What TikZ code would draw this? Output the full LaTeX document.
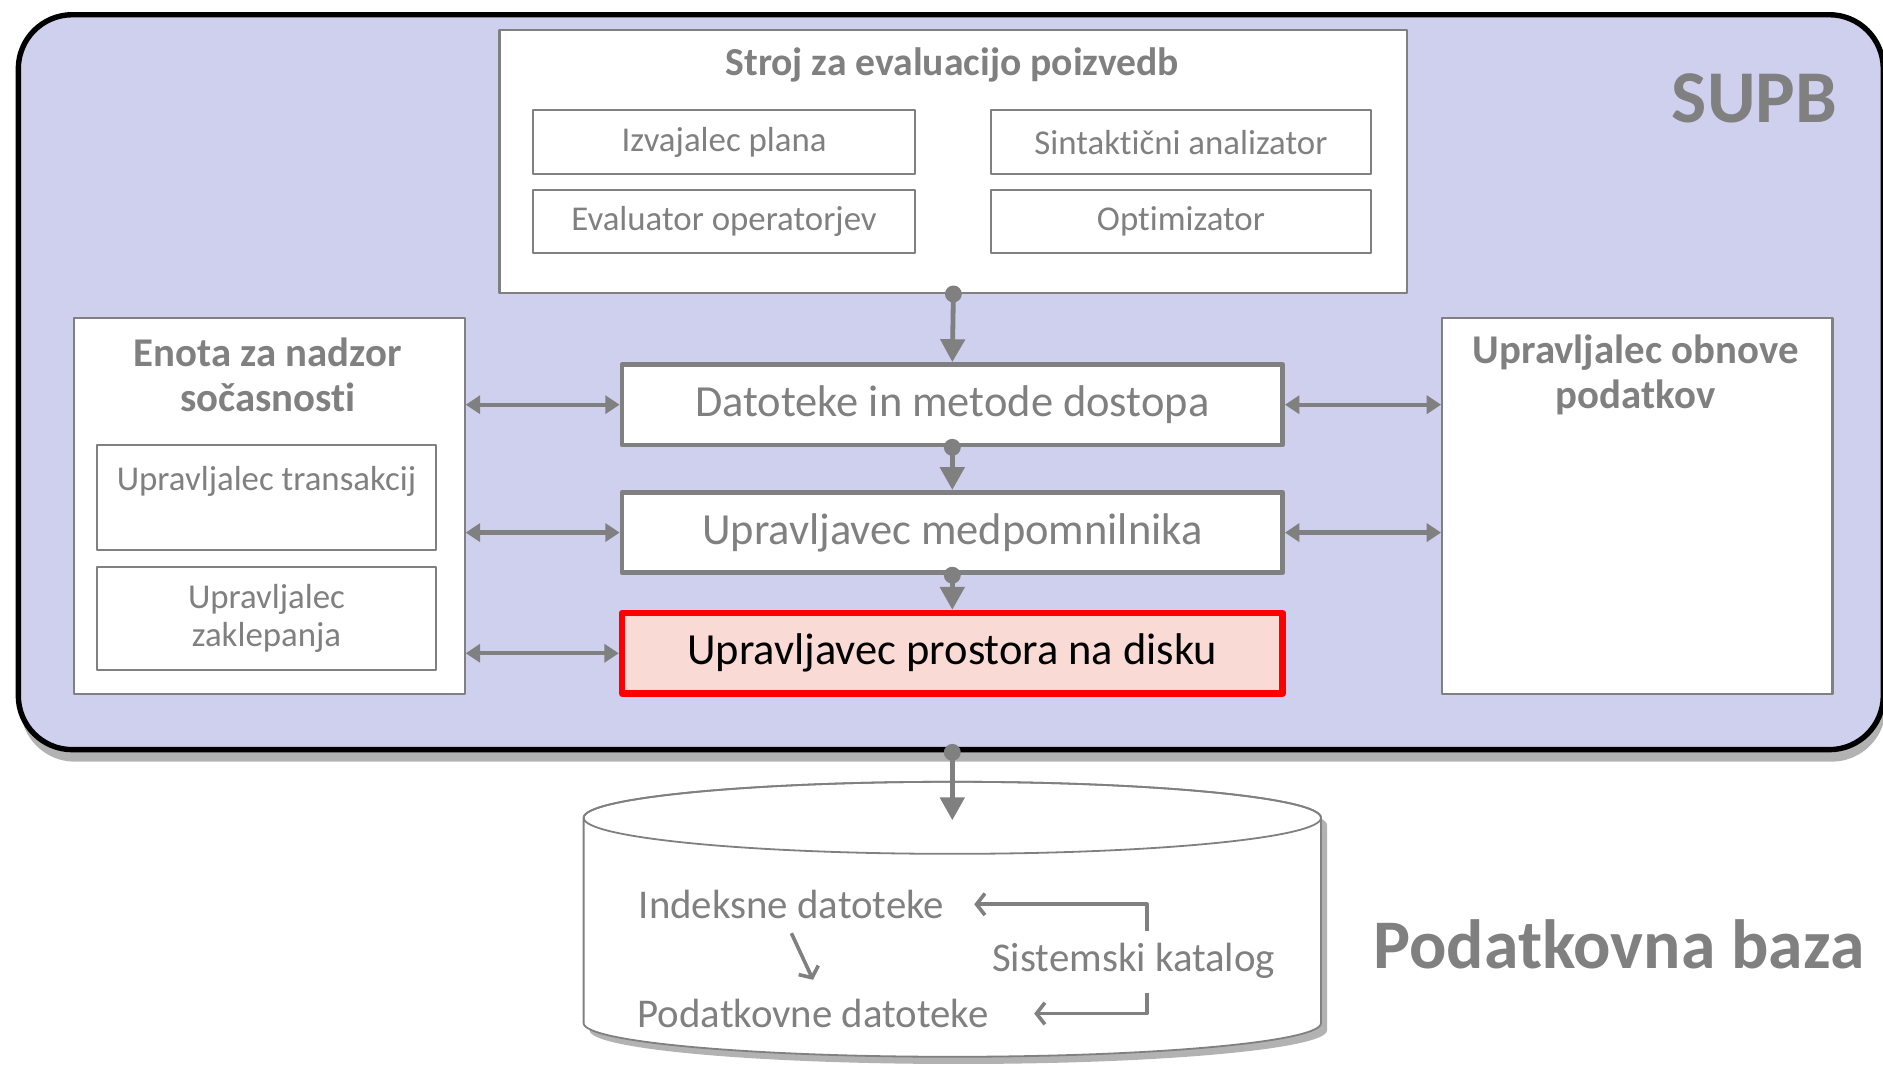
\documentclass[tikz,border=0pt]{standalone}
\usepackage{fontspec}
\setmainfont{Carlito}[Ligatures=NoCommon]
\usetikzlibrary{arrows.meta,positioning,shadows}
\definecolor{supbfill}{RGB}{207,208,238}
\definecolor{diskfill}{RGB}{250,218,212}
\definecolor{txtgray}{RGB}{128,128,128}
\newcommand{\fsz}[2]{\fontsize{#1}{#2}\selectfont}
\begin{document}
\begin{tikzpicture}[x=1pt, y=-1pt, line join=round,
 thinbox/.style={draw=txtgray, line width=1.8pt, fill=white, anchor=north west, inner sep=0pt},
 sub/.style={thinbox, text=txtgray, font=\fsz{29}{32}, align=center},
 midbox/.style={draw=txtgray, line width=4pt, fill=white, minimum width=550pt, minimum height=67pt, text=txtgray, font=\fsz{37}{42}},
 title/.style={text=txtgray, font=\bfseries\fsz{34}{37}, align=center, inner sep=0pt},
 dbtext/.style={text=txtgray, font=\fsz{34}{38}, inner sep=0pt},
 vline/.style={draw=txtgray, line width=4pt, {Circle[length=14pt,width=14pt]}-{Triangle[length=19pt,width=20pt]}, shorten <=-7pt},
 hline/.style={draw=txtgray, line width=3.5pt, {Triangle[length=12pt,width=15pt]}-{Triangle[length=12pt,width=15pt]}},
 catline/.style={draw=txtgray, line width=3pt, -{Straight Barb[length=7pt,width=18pt]}}]
\useasboundingbox (0,0) rectangle (1568,890);
% SUPB
\node[draw=black, line width=4.5pt, fill=supbfill, rounded corners=45pt, anchor=north west, minimum width=1553pt, minimum height=612pt,
 drop shadow={shadow xshift=2pt, shadow yshift=-10pt, fill=black!60, opacity=.5}] (supb) at (13,10) {};
\node[text=txtgray, font=\bfseries\fsz{62}{70}] (supbl) at (1461,82) {SUPB};
% stroj za evaluacijo
\node[thinbox, minimum width=756pt, minimum height=219pt] (stroj) at (415,24) {};
\node[title, font=\bfseries\fsz{33}{37}] (strojt) at (793,54) {Stroj za evaluacijo poizvedb};
\node[sub, minimum width=318pt, minimum height=53pt] (izv) at (443,91) {Izvajalec plana};
\node[sub, minimum width=317pt, minimum height=53pt] (sin) at (824,91) {Sintaktični analizator};
\node[sub, minimum width=318pt, minimum height=53pt] (eva) at (443,157) {Evaluator operatorjev};
\node[sub, minimum width=317pt, minimum height=53pt] (opt) at (824,157) {Optimizator};
% nadzor socasnosti
\node[thinbox, minimum width=325pt, minimum height=313pt] (enota) at (61,264) {};
\node[title] (enotat) at (223,312) {Enota za nadzor\\sočasnosti};
\node[sub, minimum width=282pt, minimum height=87pt] (trans) at (80,370) {Upravljalec transakcij\\~};
\node[sub, minimum width=282pt, minimum height=86pt] (zakl) at (80,471) {Upravljalec\\zaklepanja};
% obnova
\node[thinbox, minimum width=325pt, minimum height=313pt] (obnova) at (1200,264) {};
\node[title] (obnovat) at (1362,312) {Upravljalec obnove\\podatkov};
% sredina
\node[midbox] (dat) at (793,337) {Datoteke in metode dostopa};
\node[midbox] (medp) at (793,443.5) {Upravljavec medpomnilnika};
\node[midbox, draw=red, line width=5.5pt, fill=diskfill, text=black] (disk) at (793,544) {Upravljavec prostora na disku};
\draw[vline] (stroj.south) -- (dat.north);
\draw[vline] (dat.south) -- (medp.north);
\draw[vline] (medp.south) -- (disk.north);
\foreach \n in {dat,medp,disk}
 \draw[hline] (enota.east |- \n) -- (\n.west);
\foreach \n in {dat,medp}
 \draw[hline] (\n.east) -- (obnova.west |- \n);
% podatkovna baza
\path[fill=white, draw=txtgray, line width=1.5pt, drop shadow={shadow xshift=5pt, shadow yshift=-6pt, fill=black!60, opacity=.5}]
 (486,681) -- (486,852) arc[start angle=180, end angle=360, x radius=307pt, y radius=28pt] -- (1100,681)
 arc[start angle=0, end angle=180, x radius=307pt, y radius=30pt] -- cycle;
\draw[txtgray, line width=1.5pt] (793,681) ellipse [x radius=307pt, y radius=30pt];
\coordinate (dbtop) at (793,683);
\draw[vline] (disk |- supb.south) -- (dbtop);
\node[dbtext] (idx) at (659,753) {Indeksne datoteke};
\node[dbtext] (pod) at (677,844) {Podatkovne datoteke};
\node[dbtext] (kat) at (944,800) {Sistemski katalog};
\draw[catline] ([xshift=11pt,yshift=10pt]kat.north) |- ([xshift=25pt]idx.east);
\draw[catline] ([xshift=11pt,yshift=-12pt]kat.south) |- ([xshift=38pt]pod.east);
\draw[catline] ([yshift=-12pt]idx.south) -- ([yshift=16pt]pod.north);
\node[text=txtgray, font=\bfseries\fsz{58}{66}] (dbl) at (1348,786) {Podatkovna baza};
\end{tikzpicture}
\end{document}
